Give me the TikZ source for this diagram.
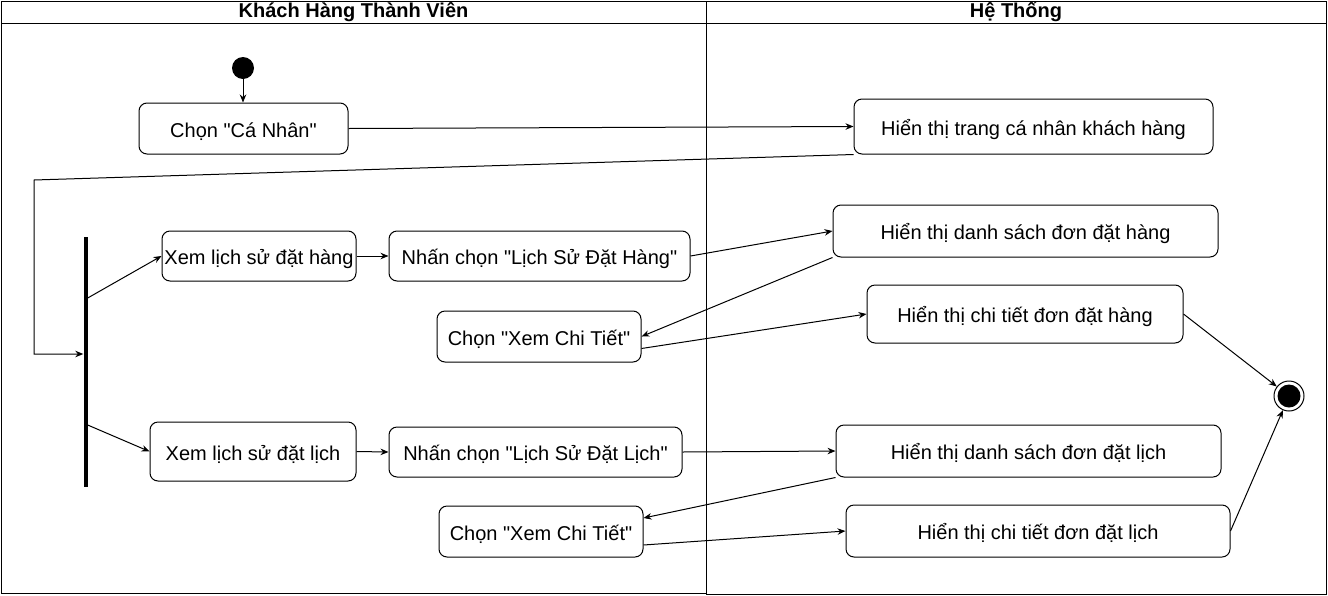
\documentclass[tikz,border=0pt]{standalone}
\usepackage{fontspec}
\setmainfont{Liberation Sans}[Ligatures=TeXOff]
\usepackage{tikz}
\usetikzlibrary{arrows.meta}

\begin{document}
\begin{tikzpicture}[x=1pt, y=-1pt,
  act/.style={draw, rounded corners=8pt, line width=1pt, inner sep=0pt, text height=19pt, text depth=2pt, font=\fontsize{20}{23}\selectfont},
  flow/.style={-{Stealth[length=8pt,width=6.5pt]}, line width=1pt},
  lane/.style={draw, line width=1pt}]
\useasboundingbox (0,0) rectangle (1328,595);

\draw[lane] (1,1) rectangle (706,593);
\draw[lane] (1,23) -- (706,23);
\draw[lane] (706,1) rectangle (1326,594);
\draw[lane] (706,23) -- (1326,23);
\node[font=\bfseries\fontsize{20}{23}\selectfont] (lanekh) at (353.5,12) {Khách Hàng Thành Viên};
\node[font=\bfseries\fontsize{20}{23}\selectfont] (laneht) at (1016,12) {Hệ Thống};

\node[circle, fill=black, minimum size=22pt, inner sep=0pt] (start) at (243,68) {};
\node[circle, draw, line width=1pt, minimum size=30pt, inner sep=0pt,
  path picture={\fill[black] (path picture bounding box.center) circle (11.5pt);}] (end) at (1289,396) {};
\node[fill=black, minimum width=4pt, minimum height=250pt, inner sep=0pt] (bar) at (85.5,361.5) {};

\node[act, minimum width=209pt, minimum height=51pt] (chon) at (243.5,128.5) {Chọn "Cá Nhân"};
\node[act, minimum width=359pt, minimum height=55pt] (trang) at (1033.5,126.5) {Hiển thị trang cá nhân khách hàng};
\node[act, minimum width=194pt, minimum height=50pt] (xemhang) at (259,256) {Xem lịch sử đặt hàng};
\node[act, minimum width=301pt, minimum height=50pt] (nhanhang) at (539.5,256) {Nhấn chọn "Lịch Sử Đặt Hàng"};
\node[act, minimum width=385pt, minimum height=52pt] (dshang) at (1025.5,231) {Hiển thị danh sách đơn đặt hàng};
\node[act, minimum width=204pt, minimum height=51pt] (ctxem1) at (539,336.5) {Chọn "Xem Chi Tiết"};
\node[act, minimum width=316pt, minimum height=58pt] (cthang) at (1025,314) {Hiển thị chi tiết đơn đặt hàng};
\node[act, minimum width=206pt, minimum height=59pt] (xemlich) at (253,451.5) {Xem lịch sử đặt lịch};
\node[act, minimum width=293pt, minimum height=50pt] (nhanlich) at (535.5,452) {Nhấn chọn "Lịch Sử Đặt Lịch"};
\node[act, minimum width=385pt, minimum height=52pt] (dslich) at (1028.5,451) {Hiển thị danh sách đơn đặt lịch};
\node[act, minimum width=204pt, minimum height=51pt] (ctxem2) at (541,531.5) {Chọn "Xem Chi Tiết"};
\node[act, minimum width=384pt, minimum height=52pt] (ctlich) at (1038,531) {Hiển thị chi tiết đơn đặt lịch};

\coordinate (back) at (34,180);

\draw[flow] (start) -- (start |- chon.north);
\draw[flow] (chon.east) -- (trang.west);
\draw[flow] (trang.south west) -- (back) |- ([yshift=7.5pt]bar.west);
\draw[flow] ([yshift=63.5pt]bar.east) -- (xemhang.west);
\draw[flow] ([yshift=-63.5pt]bar.east) -- (xemlich.west);
\draw[flow] (xemhang.east) -- (nhanhang.west);
\draw[flow] (nhanhang.east) -- (dshang.west);
\draw[flow] (dshang.south west) -- (ctxem1.east);
\draw[flow] ([yshift=-12pt]ctxem1.east) -- (cthang.west);
\draw[flow] (cthang.east) -- (end);
\draw[flow] (xemlich.east) -- (nhanlich.west);
\draw[flow] (nhanlich.east) -- (dslich.west);
\draw[flow] (dslich.south west) -- ([yshift=13.5pt]ctxem2.east);
\draw[flow] ([yshift=-13.5pt]ctxem2.east) -- (ctlich.west);
\draw[flow] (ctlich.east) -- (end);
\end{tikzpicture}
\end{document}
